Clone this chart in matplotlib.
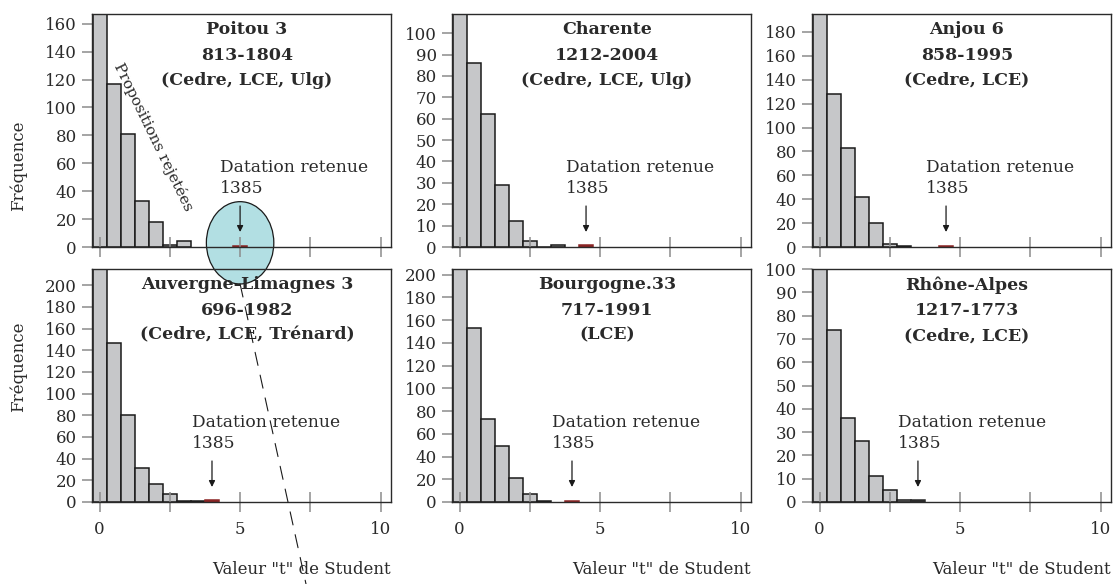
import matplotlib
matplotlib.use("Agg")
import matplotlib.pyplot as plt
import matplotlib.transforms as mtransforms
import numpy as np
from matplotlib.patches import Ellipse, ConnectionPatch

plt.rcParams["font.family"] = ["DejaVu Serif"]

# --- data: counts per 0.5-wide bin of Student t, bins centred on 0, 0.5, 1.0 ...
names = ["Poitou 3", "Charente", "Anjou 6", "Auvergne-Limagnes 3", "Bourgogne.33", "Rhône-Alpes"]
periods = ["813-1804", "1212-2004", "858-1995", "696-1982", "717-1991", "1217-1773"]
sources = ["(Cedre, LCE, Ulg)", "(Cedre, LCE, Ulg)", "(Cedre, LCE)",
           "(Cedre, LCE, Trénard)", "(LCE)", "(Cedre, LCE)"]
counts_poitou = [185, 117, 81, 33, 18, 1.5, 4]
counts_charente = [125, 86, 62, 29, 12, 3, 0, 1]
counts_anjou = [210, 128, 83, 42, 20, 2.5, 1]
counts_auvergne = [230, 147, 80, 31, 17, 7, 1, 1]
counts_bourgogne = [215, 153, 73, 49, 21, 7, 1]
counts_rhone = [110, 74, 36, 26, 11, 5, 1]
all_counts = [counts_poitou, counts_charente, counts_anjou,
              counts_auvergne, counts_bourgogne, counts_rhone]
# t value and count of the retained dating (1385)
retained_t = [5.0, 4.5, 4.5, 4.0, 4.0, 3.5]
retained_n = [1, 1, 1, 1.5, 1, 1]
y_top = [167, 109, 195, 215, 205, 100]
y_step = [20, 10, 20, 20, 20, 10]
bin_width = 0.5

fig = plt.figure(figsize=(11.13, 5.84), dpi=100)
W, H = 1113, 584
lefts = [92, 452, 812]
tops = [14, 269]
ax_w, ax_h = 299, 233

txt = "#2a2a2a"
axes = []
for i in range(6):
    r, c = divmod(i, 3)
    ax = fig.add_axes([lefts[c] / W, 1 - (tops[r] + ax_h) / H, ax_w / W, ax_h / H])
    ax.patch.set_alpha(0)
    axes.append(ax)
    counts = all_counts[i]
    centers = np.arange(len(counts)) * bin_width
    ax.bar(centers, counts, width=bin_width, color="#c6c7c9",
           edgecolor="#1a1a1a", linewidth=1.1)
    hl_col = "#8b2525" if i < 5 else "#2a2a2a"
    ax.bar([retained_t[i]], [retained_n[i]], width=bin_width, color=hl_col,
           edgecolor=hl_col, linewidth=1.1)
    ax.set_xlim(-0.27, 10.37)
    ax.set_ylim(0, y_top[i])
    ax.set_yticks(np.arange(0, y_top[i] + 0.1, y_step[i]))
    ax.set_xticks([0, 2.5, 5, 7.5, 10])
    if r == 1:
        ax.set_xticklabels(["0", "", "5", "", "10"])
    else:
        ax.set_xticklabels([])
    ax.tick_params(axis="x", direction="inout", length=14, width=1.1,
                   color="#8c8c8c", pad=7, labelsize=12, labelcolor=txt)
    ax.tick_params(axis="y", direction="out", length=7, width=1.1,
                   color="#8c8c8c", pad=4, labelsize=12, labelcolor=txt)
    for sp in ax.spines.values():
        sp.set_color("#2a2a2a")
        sp.set_linewidth(1.0)

    ax.text(0.518, 0.968, f"{names[i]}\n{periods[i]}\n{sources[i]}",
            transform=ax.transAxes, ha="center", va="top", fontsize=12.5,
            fontweight="bold", color=txt, linespacing=1.62)

    tip = mtransforms.offset_copy(ax.transData, fig=fig, x=0, y=15, units="dots")
    ax.annotate("", xy=(retained_t[i], 0), xycoords=tip, xytext=(0, 26),
                textcoords="offset pixels",
                arrowprops=dict(arrowstyle="-|>", color="#1a1a1a", lw=0.9,
                                mutation_scale=9, shrinkA=0, shrinkB=0))
    ax.annotate("Datation retenue\n1385", xy=(retained_t[i], 0), xycoords=tip,
                xytext=(-20, 39), textcoords="offset pixels", ha="left",
                va="baseline", fontsize=12.3, color=txt, linespacing=1.3)

    if r == 1:
        fig.text((lefts[c] + ax_w) / W, 1 - 570 / H, 'Valeur "t" de Student',
                 ha="right", va="center", fontsize=12, color=txt)

fig.text(18 / W, 1 - 166 / H, "Fréquence", rotation=90, ha="center", va="center",
         fontsize=12, color=txt)
fig.text(18 / W, 1 - 367 / H, "Fréquence", rotation=90, ha="center", va="center",
         fontsize=12, color=txt)

ax0 = axes[0]
ax0.text(1.92, 79, "Propositions rejetées", rotation=-64, ha="center", va="center",
         fontsize=11, color=txt)

# circle around the retained dating and pointer to the bottom
ell_h = 59
ell = Ellipse((retained_t[0], 3), 2.4, ell_h, facecolor="#b2dfe3",
              edgecolor="#1a1a1a", linewidth=0.9, zorder=0.5, clip_on=False)
ax0.add_patch(ell)
con = ConnectionPatch(xyA=(retained_t[0], 3 - ell_h / 2), coordsA=ax0.transData,
                      xyB=(306 / W, 0), coordsB=fig.transFigure,
                      color="#1a1a1a", linewidth=0.8, linestyle=(0, (12, 9)))
fig.add_artist(con)

fig.savefig("out.png", dpi=100)
